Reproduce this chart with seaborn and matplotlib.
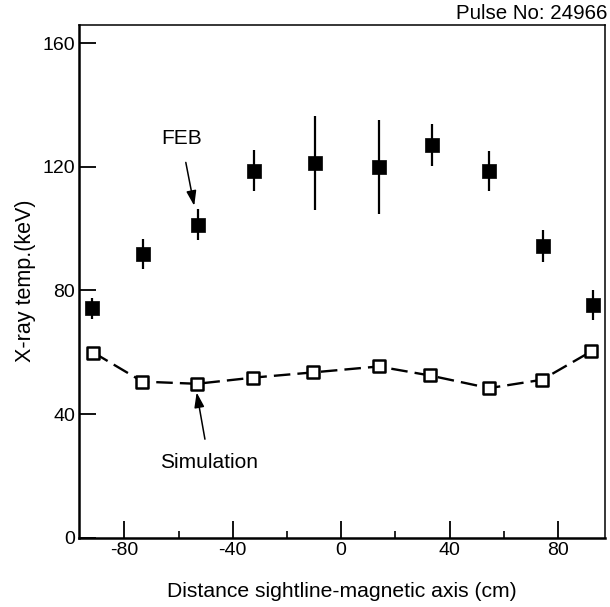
import matplotlib
matplotlib.use("Agg")
import matplotlib.pyplot as plt
import seaborn as sns
import numpy as np
import pandas as pd
from matplotlib.ticker import FixedLocator

# ---- data ----
feb_x = [-92.0, -73.0, -52.8, -32.1, -9.6, 14.0, 33.6, 54.6, 74.5, 93.1]
feb_y = [74.2, 91.8, 101.2, 118.8, 121.2, 119.9, 127.1, 118.7, 94.4, 75.2]
feb_err = [3.5, 4.7, 5.0, 6.6, 15.2, 15.2, 6.7, 6.5, 5.2, 4.9]

sim_x = [-91.4, -73.3, -53.2, -32.4, -10.2, 13.8, 32.7, 54.6, 74.1, 92.3]
sim_y = [59.9, 50.5, 49.8, 51.8, 53.5, 55.4, 52.5, 48.4, 51.1, 60.3]

x_major = [-80, -40, 0, 40, 80]
x_minor = [-60, -20, 20, 60]
y_major = [0, 40, 80, 120, 160]

feb = pd.DataFrame({"x": feb_x, "y": feb_y, "err": feb_err})
sim = pd.DataFrame({"x": sim_x, "y": sim_y})

sns.set_theme(style="white")
plt.rcParams["font.family"] = ["Liberation Sans", "DejaVu Sans"]

fig = plt.figure(figsize=(6.10, 6.07), dpi=100)
ax = fig.add_axes([0.130, 0.1142, 0.862, 0.8451])

# simulation dashed curve
sns.lineplot(data=sim, x="x", y="y", ax=ax, color="black", linewidth=1.7,
             sort=False, zorder=2)
ax.lines[-1].set_dashes((7, 3))
sns.scatterplot(data=sim, x="x", y="y", ax=ax, marker="s", s=85,
                facecolor="white", edgecolor="black", linewidth=1.8, zorder=3)

# FEB data with error bars
ax.errorbar(feb["x"], feb["y"], yerr=feb["err"], fmt="none", ecolor="black",
            elinewidth=1.6, capsize=0, zorder=3)
sns.scatterplot(data=feb, x="x", y="y", ax=ax, marker="s", s=95,
                color="black", edgecolor="black", linewidth=0.5, zorder=4)

ax.set_xlim(-96.6, 97.4)
ax.set_ylim(0, 166)
ax.xaxis.set_major_locator(FixedLocator(x_major))
ax.xaxis.set_minor_locator(FixedLocator(x_minor))
ax.yaxis.set_major_locator(FixedLocator(y_major))
ax.set_xticklabels([str(v) for v in x_major])
ax.set_yticklabels([str(v) for v in y_major])

ax.tick_params(axis="both", which="major", direction="in", length=12,
               width=1.3, color="black", labelsize=14, labelcolor="black",
               pad=3)
ax.tick_params(axis="x", which="minor", direction="in", length=5,
               width=1.2, color="black", bottom=True)
ax.tick_params(axis="x", which="major", bottom=True, top=False)
ax.tick_params(axis="y", which="major", left=True, right=False)

for side in ["left", "bottom"]:
    ax.spines[side].set_linewidth(1.8)
    ax.spines[side].set_color("black")
for side in ["top", "right"]:
    ax.spines[side].set_linewidth(1.1)
    ax.spines[side].set_color("black")

ax.set_xlabel("Distance sightline-magnetic axis (cm)", fontsize=15.2,
              color="black", labelpad=17)
ax.set_ylabel("X-ray temp.(keV)", fontsize=15.5, color="black", labelpad=5)

# annotations
ax.annotate("FEB", xy=(-54.2, 107.4), xytext=(-59.0, 129.1),
            fontsize=15, ha="center", va="center", color="black",
            arrowprops=dict(arrowstyle="-|>,head_length=0.6,head_width=0.2",
                            color="black", lw=1.1, shrinkA=8, shrinkB=0))
ax.annotate("Simulation", xy=(-53.3, 47.0), xytext=(-48.7, 24.2),
            fontsize=15, ha="center", va="center", color="black",
            arrowprops=dict(arrowstyle="-|>,head_length=0.6,head_width=0.2",
                            color="black", lw=1.1, shrinkA=8, shrinkB=0))

fig.text(0.995, 0.978, "Pulse No: 24966", ha="right", va="center",
         fontsize=14.8, color="black")

fig.savefig("out.png", dpi=100, facecolor="white")
